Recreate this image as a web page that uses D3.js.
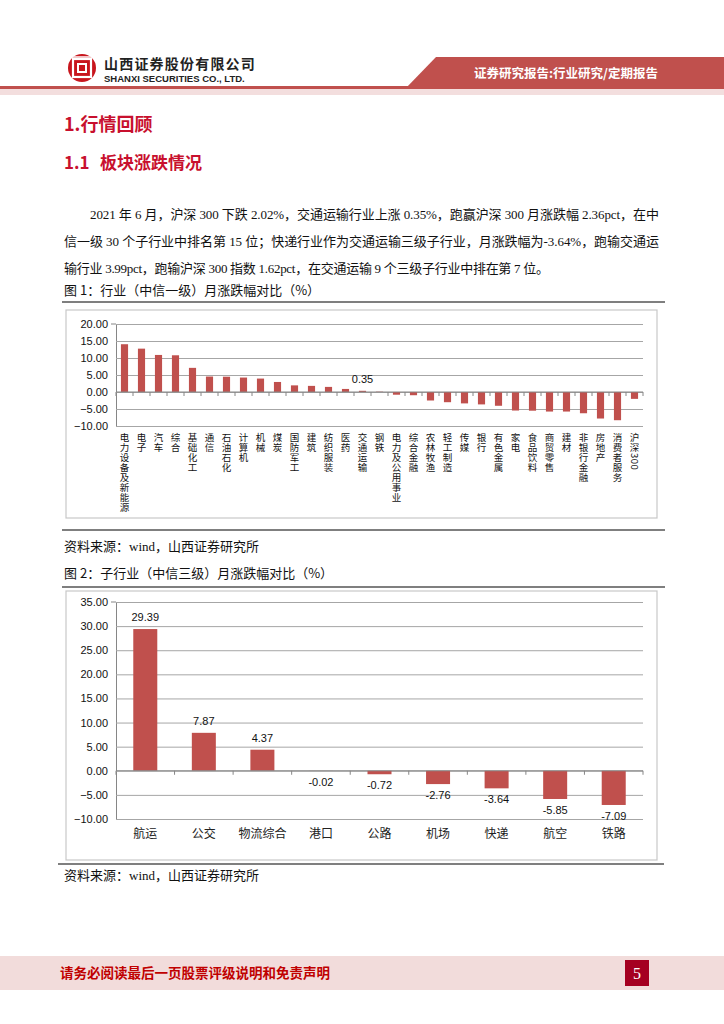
<!DOCTYPE html>
<html>
<head>
<meta charset="utf-8">
<script src="https://cdn.jsdelivr.net/npm/d3@7"></script>
<style>
  body { margin: 0; background: #fff; }
  svg text { font-family: "Liberation Sans", "Noto Sans CJK SC", sans-serif; }
  .serif { font-family: "Liberation Serif", "Noto Sans CJK SC", serif !important; }
  .cjk { font-family: "Noto Sans CJK SC", sans-serif !important; }
  .vert { writing-mode: vertical-rl; text-orientation: mixed; }
</style>
</head>
<body>
<script>
// chart 1: 中信一级行业 monthly change (%)
const industries = ['电力设备及新能源','电子','汽车','综合','基础化工','通信','石油石化','计算机','机械','煤炭',
  '国防军工','建筑','纺织服装','医药','交通运输','钢铁','电力及公用事业','综合金融','农林牧渔','轻工制造',
  '传媒','银行','有色金属','家电','食品饮料','商贸零售','建材','非银行金融','房地产','消费者服务','沪深300']
const industryValues = [14.05, 12.75, 10.9, 10.8, 7.1, 4.55, 4.5, 4.25, 3.95, 2.95,
  1.95, 1.8, 1.5, 0.9, 0.35, 0.1, -0.8, -0.95, -2.5, -3.0,
  -3.35, -3.65, -4.05, -5.45, -5.5, -5.75, -5.75, -6.25, -7.8, -8.3, -2.02]
const ticks1 = [20, 15, 10, 5, 0, -5, -10]

// chart 2: 交通运输三级子行业 monthly change (%)
const subIndustries = ['航运','公交','物流综合','港口','公路','机场','快递','航空','铁路']
const subValues = [29.39, 7.87, 4.37, -0.02, -0.72, -2.76, -3.64, -5.85, -7.09]
const ticks2 = [35, 30, 25, 20, 15, 10, 5, 0, -5, -10]

const width = 724
const height = 1024
const red = '#c0504d'
const headRed = '#c8102e'

const svg = d3.select('body').append('svg').attr('width', width).attr('height', height)

// ---- page header
svg.append('polygon').attr('points', '436,57 724,57 724,88 406,88').attr('fill', '#c0504d')
svg.append('rect').attr('x', 0).attr('y', 86).attr('width', width).attr('height', 3).attr('fill', '#c0504d')
svg.append('rect').attr('x', 0).attr('y', 89).attr('width', width).attr('height', 6).attr('fill', '#f3dede')
svg.append('text').attr('x', 566).attr('y', 78).attr('text-anchor', 'middle').attr('fill', '#fff')
  .attr('font-size', 12.5).attr('font-weight', 'bold').attr('class', 'cjk').text('证券研究报告:行业研究/定期报告')

const logo = svg.append('g').attr('transform', 'translate(82,68)')
logo.append('circle').attr('r', 14).attr('fill', '#c8161d')
logo.append('rect').attr('x', -9).attr('y', -9).attr('width', 18).attr('height', 18).attr('fill', 'none').attr('stroke', '#fff').attr('stroke-width', 2.2)
logo.append('rect').attr('x', -4).attr('y', -4).attr('width', 8).attr('height', 8).attr('fill', 'none').attr('stroke', '#fff').attr('stroke-width', 2)
logo.append('line').attr('x1', -14).attr('x2', 14).attr('y1', -11).attr('y2', -11).attr('stroke', '#fff').attr('stroke-width', 1.5)
svg.append('text').attr('x', 104).attr('y', 69).attr('font-size', 14).attr('font-weight', 'bold').attr('fill', '#222')
  .attr('class', 'cjk').attr('letter-spacing', 1.2).text('山西证券股份有限公司')
svg.append('text').attr('x', 104).attr('y', 82).attr('font-size', 9.5).attr('font-weight', 'bold').attr('fill', '#222')
  .text('SHANXI SECURITIES CO., LTD.')

// ---- headings + paragraph
svg.append('text').attr('x', 64).attr('y', 131).attr('font-size', 18).attr('font-weight', 'bold')
  .attr('fill', headRed).attr('class', 'cjk').text('1.行情回顾')
svg.append('text').attr('x', 64).attr('y', 169).attr('font-size', 17).attr('font-weight', 'bold')
  .attr('fill', headRed).attr('class', 'cjk').text('1.1')
svg.append('text').attr('x', 100).attr('y', 169).attr('font-size', 17).attr('font-weight', 'bold')
  .attr('fill', headRed).attr('class', 'cjk').text('板块涨跌情况')

const para = [
  {x: 90, y: 219, w: 569, t: '2021 年 6 月，沪深 300 下跌 2.02%，交通运输行业上涨 0.35%，跑赢沪深 300 月涨跌幅 2.36pct，在中'},
  {x: 64, y: 246, w: 595, t: '信一级 30 个子行业中排名第 15 位；快递行业作为交通运输三级子行业，月涨跌幅为-3.64%，跑输交通运'},
  {x: 64, y: 273, w: 485, t: '输行业 3.99pct，跑输沪深 300 指数 1.62pct，在交通运输 9 个三级子行业中排在第 7 位。'}
]
para.forEach(p => {
  svg.append('text').attr('x', p.x).attr('y', p.y).attr('font-size', 13).attr('fill', '#111')
    .attr('class', 'serif').attr('textLength', p.w).attr('lengthAdjust', 'spacing').text(p.t)
})

svg.append('text').attr('x', 64).attr('y', 295).attr('font-size', 13).attr('fill', '#111').attr('class', 'cjk')
  .text('图 1：行业（中信一级）月涨跌幅对比（%）')
svg.append('line').attr('x1', 62).attr('x2', 665).attr('y1', 302).attr('y2', 302).attr('stroke', '#7f7f7f').attr('stroke-width', 2)

// ---- chart 1
svg.append('rect').attr('x', 66).attr('y', 310).attr('width', 591).attr('height', 208)
  .attr('fill', '#fff').attr('stroke', '#c8c8c8').attr('stroke-width', 1.2)

const x1 = d3.scaleBand().domain(industries).range([116, 643]).paddingInner(0.58).paddingOuter(0.29)
const y1 = d3.scaleLinear().domain([-10, 20]).range([426, 324])

const g1 = svg.append('g')
g1.append('g').attr('transform', 'translate(116,0)')
  .call(d3.axisLeft(y1).tickValues(ticks1).tickFormat(d3.format('.2f')).tickSize(-(643 - 116)).tickSizeOuter(0))
  .call(g => g.select('.domain').attr('stroke', '#868686'))
  .call(g => g.selectAll('.tick line').attr('stroke', '#a6a6a6'))
  .call(g => g.selectAll('.tick text').attr('font-size', 11).attr('fill', '#111').attr('x', -8))
g1.append('line').attr('x1', 111).attr('x2', 116).attr('y1', 324).attr('y2', 324).attr('stroke', '#868686')

g1.selectAll('rect.bar').data(industryValues).enter().append('rect').attr('class', 'bar')
  .attr('x', (d, i) => x1(industries[i]))
  .attr('width', x1.bandwidth())
  .attr('y', d => y1(Math.max(0, d)))
  .attr('height', d => Math.abs(y1(d) - y1(0)))
  .attr('fill', red)

// x axis on zero line with ticks between categories
const step1 = x1.step()
g1.append('line').attr('x1', 116).attr('x2', 643).attr('y1', y1(0)).attr('y2', y1(0)).attr('stroke', '#868686')
g1.selectAll('line.xt').data(d3.range(industries.length + 1)).enter().append('line').attr('class', 'xt')
  .attr('x1', i => 116 + i * step1).attr('x2', i => 116 + i * step1)
  .attr('y1', y1(0)).attr('y2', y1(0) + 4).attr('stroke', '#868686')

// vertical category labels (CJK upright, digits sideways)
g1.selectAll('text.cat').data(industries).enter().append('text').attr('class', 'cat cjk vert')
  .attr('x', d => x1(d) + x1.bandwidth() / 2)
  .attr('y', 433)
  .attr('font-size', 9.5)
  .attr('letter-spacing', 0.5)
  .attr('fill', '#111')
  .text(d => d)

const iT = industries.indexOf('交通运输')
g1.append('text').attr('x', x1('交通运输') + x1.bandwidth() / 2).attr('y', y1(industryValues[iT]) - 8)
  .attr('text-anchor', 'middle').attr('font-size', 11).attr('fill', '#111').text(industryValues[iT].toFixed(2))

svg.append('line').attr('x1', 62).attr('x2', 665).attr('y1', 530).attr('y2', 530).attr('stroke', '#7f7f7f').attr('stroke-width', 2)
svg.append('text').attr('x', 64).attr('y', 551).attr('font-size', 13).attr('fill', '#111').attr('class', 'serif')
  .text('资料来源：wind，山西证券研究所')
svg.append('text').attr('x', 64).attr('y', 578).attr('font-size', 13).attr('fill', '#111').attr('class', 'cjk')
  .text('图 2：子行业（中信三级）月涨跌幅对比（%）')
svg.append('line').attr('x1', 62).attr('x2', 665).attr('y1', 587).attr('y2', 587).attr('stroke', '#7f7f7f').attr('stroke-width', 2)

// ---- chart 2
svg.append('rect').attr('x', 66).attr('y', 591).attr('width', 591).attr('height', 269)
  .attr('fill', '#fff').attr('stroke', '#c8c8c8').attr('stroke-width', 1.2)

const x2 = d3.scaleBand().domain(subIndustries).range([116, 643]).paddingInner(0.59).paddingOuter(0.295)
const y2 = d3.scaleLinear().domain([-10, 35]).range([819, 602])

const g2 = svg.append('g')
g2.append('g').attr('transform', 'translate(116,0)')
  .call(d3.axisLeft(y2).tickValues(ticks2).tickFormat(d3.format('.2f')).tickSize(-(643 - 116)).tickSizeOuter(0))
  .call(g => g.select('.domain').attr('stroke', '#868686'))
  .call(g => g.selectAll('.tick line').attr('stroke', '#a6a6a6'))
  .call(g => g.selectAll('.tick text').attr('font-size', 11).attr('fill', '#111').attr('x', -8))
g2.append('line').attr('x1', 111).attr('x2', 116).attr('y1', 602).attr('y2', 602).attr('stroke', '#868686')

g2.selectAll('rect.bar').data(subValues).enter().append('rect').attr('class', 'bar')
  .attr('x', (d, i) => x2(subIndustries[i]))
  .attr('width', x2.bandwidth())
  .attr('y', d => y2(Math.max(0, d)))
  .attr('height', d => Math.abs(y2(d) - y2(0)))
  .attr('fill', red)

const step2 = x2.step()
g2.append('line').attr('x1', 116).attr('x2', 643).attr('y1', y2(0)).attr('y2', y2(0)).attr('stroke', '#868686')
g2.selectAll('line.xt').data(d3.range(subIndustries.length + 1)).enter().append('line').attr('class', 'xt')
  .attr('x1', i => 116 + i * step2).attr('x2', i => 116 + i * step2)
  .attr('y1', y2(0)).attr('y2', y2(0) + 4).attr('stroke', '#868686')

g2.selectAll('text.val').data(subValues).enter().append('text').attr('class', 'val')
  .attr('x', (d, i) => x2(subIndustries[i]) + x2.bandwidth() / 2)
  .attr('y', d => d >= 0 ? y2(d) - 8 : y2(Math.min(d, 0)) + 15)
  .attr('text-anchor', 'middle').attr('font-size', 11).attr('fill', '#111')
  .text(d => d.toFixed(2))

g2.selectAll('text.cat').data(subIndustries).enter().append('text').attr('class', 'cat cjk')
  .attr('x', d => x2(d) + x2.bandwidth() / 2)
  .attr('y', 838)
  .attr('text-anchor', 'middle').attr('font-size', 12).attr('fill', '#222')
  .text(d => d)

svg.append('line').attr('x1', 58).attr('x2', 664).attr('y1', 864).attr('y2', 864).attr('stroke', '#7f7f7f').attr('stroke-width', 2)
svg.append('text').attr('x', 64).attr('y', 880).attr('font-size', 13).attr('fill', '#111').attr('class', 'serif')
  .text('资料来源：wind，山西证券研究所')

// ---- footer
svg.append('rect').attr('x', 0).attr('y', 956).attr('width', width).attr('height', 34).attr('fill', '#f2dcdb')
svg.append('text').attr('x', 60).attr('y', 978).attr('font-size', 13.5).attr('font-weight', 'bold')
  .attr('fill', '#c00000').attr('class', 'cjk').text('请务必阅读最后一页股票评级说明和免责声明')
svg.append('rect').attr('x', 625).attr('y', 960).attr('width', 24).attr('height', 26).attr('fill', '#a50021')
svg.append('text').attr('x', 637).attr('y', 979).attr('text-anchor', 'middle').attr('font-size', 16)
  .attr('fill', '#fff').attr('class', 'serif').text('5')
</script>
</body>
</html>
